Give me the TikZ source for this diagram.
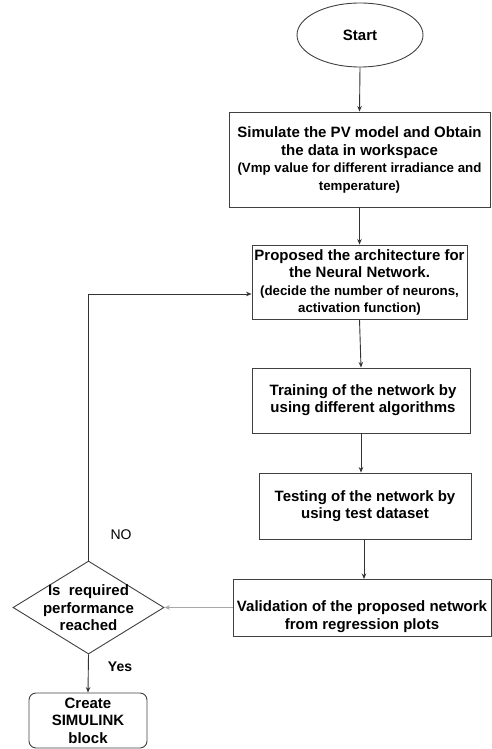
\documentclass[tikz,border=0pt]{standalone}
\usepackage{fontspec}
\setmainfont{Liberation Sans}
\usetikzlibrary{shapes.geometric,arrows.meta}
\definecolor{boxc}{HTML}{404040}
\definecolor{linec}{HTML}{333333}
\definecolor{lightc}{HTML}{A8A8A8}
\newcommand{\subfnt}{\fontsize{13.3}{16}\selectfont}
\begin{document}
\begin{tikzpicture}[x=1pt,y=-1pt,
  box/.style={draw=boxc, line width=0.9pt, inner sep=0pt, align=center,
    font=\fontsize{15}{17.5}\selectfont\bfseries},
  txt/.style={align=center, inner sep=0pt, font=\fontsize{15}{17.5}\selectfont\bfseries},
  conn/.style={draw=linec, line width=0.9pt, -{Stealth[length=5.5pt,width=4.5pt]}},
  lconn/.style={draw=lightc, line width=0.9pt, -{Stealth[length=5.5pt,width=4.5pt]}}]
\useasboundingbox (0,0) rectangle (492,749);

\node[box, ellipse, minimum width=126, minimum height=64] (start) at (360,35) {Start};
\node[box, minimum width=261, minimum height=95] (b1) at (359.5,159.5) {};
\node[txt] (t1) at (359.5,160)
  {Simulate the PV model and Obtain\\the data in workspace\\\subfnt(Vmp value for different irradiance and\\\subfnt temperature)};
\node[box, minimum width=215, minimum height=74] (b2) at (359.5,282) {};
\node[txt] (t2) at (359.5,282.5)
  {Proposed the architecture for\\the Neural Network.\\\subfnt(decide the number of neurons,\\\subfnt activation function)};
\node[box, minimum width=218, minimum height=65] (b3) at (361,400.5) {};
\node[txt] (t3) at (363,400) {Training of the network by\\using different algorithms};
\node[box, minimum width=212, minimum height=66] (b4) at (365,506)
  {Testing of the network by\\using test dataset};
\node[box, minimum width=258, minimum height=57] (b5) at (362,607.5) {};
\node[txt] (t5) at (362,616.5) {Validation of the proposed network\\from regression plots};
\node[draw=boxc, line width=0.9pt, diamond, minimum width=151, minimum height=93, inner sep=0pt] (d) at (88.5,607.5) {};
\node[txt] (td) at (88.5,608) {Is~~required\\performance\\reached};
\node[box, rounded corners=7pt, minimum width=118, minimum height=55] (c) at (88,720.5)
  {Create\\SIMULINK\\block};

\node[font=\fontsize{14}{16}\selectfont, inner sep=0pt] (no) at (121,535) {NO};
\node[font=\fontsize{14}{16}\selectfont\bfseries, inner sep=0pt] (yes) at (120,667) {Yes};

\draw[conn] (start.south) -- (b1.north);
\draw[conn] (b1.south) -- (b2.north);
\draw[conn] (b2.south) -- (b3.north);
\draw[conn] (b3.south) -- (b3.south |- b4.north);
\draw[conn] (364,539) -- (364,579);
\draw[lconn] (b5.west) -- (d.east);
\draw[conn] (d.north) |- ([yshift=-12pt]b2.west);
\draw[conn] (d.south) -- (c.north);
\end{tikzpicture}
\end{document}
